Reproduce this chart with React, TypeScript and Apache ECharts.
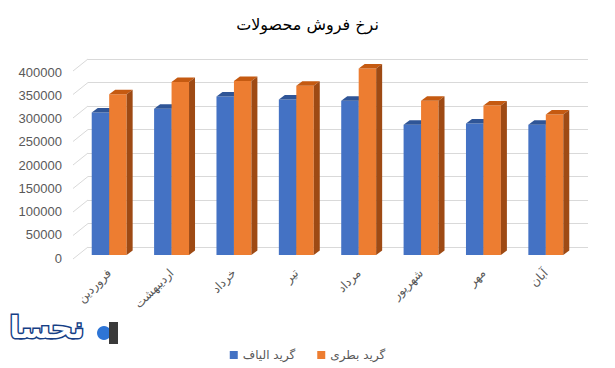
import React, { useEffect, useRef } from "react";
import * as echarts from "echarts";

const categories = ["فروردین", "اردیبهشت", "خرداد", "تیر", "مرداد", "شهریور", "مهر", "آبان"];
const fiberValues = [303000, 311000, 337000, 331000, 328000, 277000, 280000, 277000];
const bottleValues = [342000, 368000, 370000, 360000, 397000, 328000, 318000, 299000];
const yTicks = [0, 50000, 100000, 150000, 200000, 250000, 300000, 350000, 400000];
const seriesNames = ["گرید الیاف", "گرید بطری"];
const titleText = "نرخ فروش محصولات";

const FONT = "DejaVu Sans";

function makeBarRender(isLeft: boolean, front: string, top: string, side: string) {
  return (params: any, api: any) => {
    const i = api.value(0);
    const v = api.value(1);
    const pTop = api.coord([i, v]);
    const pBase = api.coord([i, 0]);
    const band = api.size([1, 0])[0];
    const w = band * 0.28;
    const l = isLeft ? pTop[0] - w : pTop[0];
    const t = pTop[1];
    const b = pBase[1];
    const dx = 6;
    const dy = -4.5;
    return {
      type: "group",
      children: [
        {
          type: "rect",
          shape: { x: l, y: t, width: w, height: b - t },
          style: { fill: front },
        },
        {
          type: "polygon",
          shape: {
            points: [
              [l, t],
              [l + w, t],
              [l + w + dx, t + dy],
              [l + dx, t + dy],
            ],
          },
          style: { fill: top },
        },
        {
          type: "polygon",
          shape: {
            points: [
              [l + w, t],
              [l + w + dx, t + dy],
              [l + w + dx, b + dy],
              [l + w, b],
            ],
          },
          style: { fill: side },
        },
      ],
    };
  };
}

export default function App() {
  const ref = useRef<HTMLDivElement>(null);
  useEffect(() => {
    if (!ref.current) return;
    const chart = echarts.init(ref.current, null, { renderer: "svg" });
    const option: any = {
      animation: false,
      backgroundColor: "#ffffff",
      title: {
        text: titleText,
        left: "center",
        top: 11,
        textStyle: { fontSize: 16, fontWeight: "normal", color: "#000000", fontFamily: FONT },
      },
      legend: {
        data: [
          { name: seriesNames[0], itemStyle: { color: "#4472C4" } },
          { name: seriesNames[1], itemStyle: { color: "#ED7D31" } },
        ],
        icon: "rect",
        itemWidth: 8,
        itemHeight: 8,
        itemGap: 22,
        left: "center",
        top: 344,
        textStyle: { fontSize: 12, color: "#595959", fontFamily: FONT },
      },
      grid: [
        { left: 78, right: 38, top: 67, bottom: 113 },
        { left: 88, right: 27, top: 59, bottom: 121 },
        { left: 73, right: 27, top: 72, bottom: 110 },
      ],
      xAxis: [
        {
          type: "category",
          gridIndex: 0,
          data: categories,
          axisLine: { show: false },
          axisTick: { show: false },
          axisLabel: {
            interval: 0,
            rotate: 45,
            margin: 16,
            fontSize: 12,
            color: "#595959",
            fontFamily: FONT,
          },
        },
        { type: "value", gridIndex: 1, min: 0, max: 1, show: false },
        { type: "value", gridIndex: 2, min: 0, max: 1, show: false },
      ],
      yAxis: [
        { type: "value", gridIndex: 0, min: 0, max: 400000, interval: 50000, show: false },
        {
          type: "value",
          gridIndex: 1,
          min: 0,
          max: 400000,
          interval: 50000,
          axisLine: { show: false },
          axisTick: { show: false },
          axisLabel: { show: false },
          splitLine: { lineStyle: { color: "#d9d9d9", width: 1 } },
        },
        {
          type: "value",
          gridIndex: 2,
          min: 0,
          max: 400000,
          interval: 50000,
          axisLine: { show: false },
          axisTick: { show: false },
          splitLine: { show: false },
          axisLabel: {
            margin: 11,
            fontSize: 13,
            color: "#595959",
            fontFamily: "Liberation Sans",
            formatter: (v: number) => String(v),
          },
        },
      ],
      series: [
        {
          type: "custom",
          name: "walls",
          xAxisIndex: 1,
          yAxisIndex: 1,
          silent: true,
          data: yTicks.map((v) => [0, v]),
          renderItem: (params: any, api: any) => {
            const p = api.coord([0, api.value(1)]);
            return {
              type: "line",
              shape: { x1: p[0] - 15, y1: p[1] + 12, x2: p[0], y2: p[1] },
              style: { stroke: "#d9d9d9", lineWidth: 1 },
            };
          },
        },
        {
          type: "custom",
          name: seriesNames[0],
          xAxisIndex: 0,
          yAxisIndex: 0,
          itemStyle: { color: "#4472C4" },
          data: fiberValues.map((v, i) => [i, v]),
          renderItem: makeBarRender(true, "#4472C4", "#2F5597", "#2F528F"),
        },
        {
          type: "custom",
          name: seriesNames[1],
          xAxisIndex: 0,
          yAxisIndex: 0,
          itemStyle: { color: "#ED7D31" },
          data: bottleValues.map((v, i) => [i, v]),
          renderItem: makeBarRender(false, "#ED7D31", "#C55A11", "#9E4A14"),
        },
      ],
      graphic: [
        {
          type: "text",
          left: 8,
          top: 311,
          style: {
            text: "نحسا",
            font: "bold 30px DejaVu Sans",
            fill: "#ffffff",
            stroke: "#163E85",
            lineWidth: 3,
          },
        },
        {
          type: "circle",
          shape: { cx: 104, cy: 333, r: 7 },
          style: { fill: "#2E75D6" },
        },
        {
          type: "rect",
          shape: { x: 109, y: 322, width: 9, height: 22 },
          style: { fill: "#3a3a3a" },
        },
      ],
    };
    chart.setOption(option);
    return () => chart.dispose();
  }, []);
  return (
    <div
      ref={ref}
      style={{ position: "fixed", left: 0, top: 0, width: 615, height: 368, background: "#fff" }}
    />
  );
}
